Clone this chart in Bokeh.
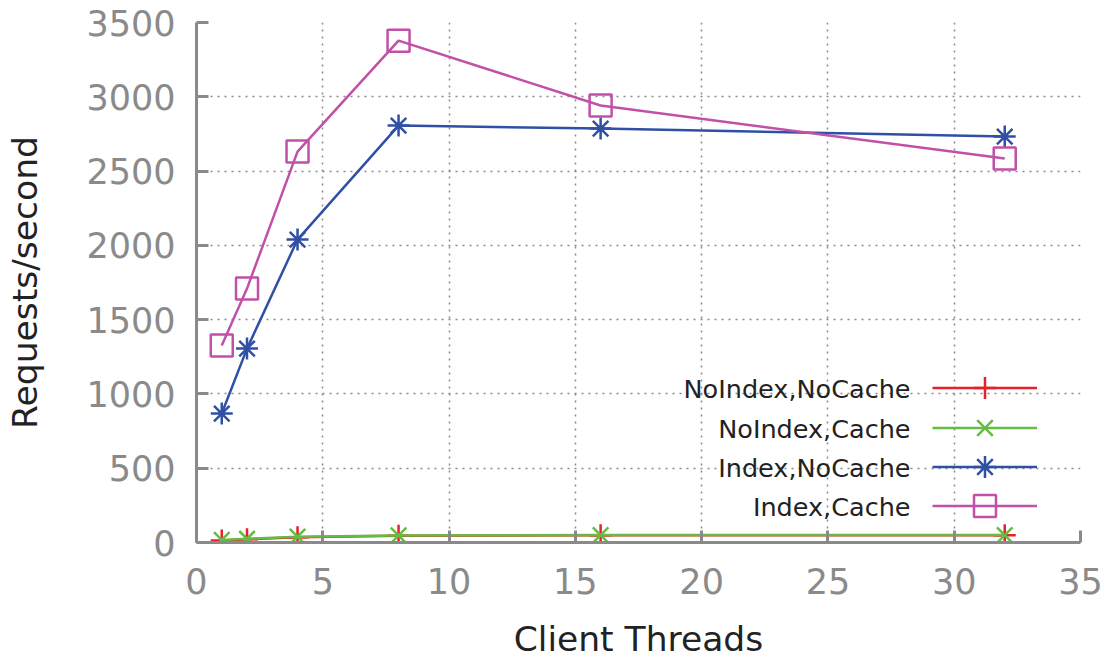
from bokeh.plotting import figure
from bokeh.models import Range1d, Legend, LegendItem, Label, FixedTicker
from bokeh.embed import file_html
from bokeh.resources import INLINE

threads = [1, 2, 4, 8, 16, 32]
noindex_nocache = [14, 22, 36, 45, 48, 48]
noindex_cache = [17, 25, 39, 47, 50, 50]
index_nocache = [868, 1305, 2039, 2806, 2786, 2732]
index_cache = [1326, 1709, 2631, 3378, 2941, 2584]

series_names = ["NoIndex,NoCache", "NoIndex,Cache", "Index,NoCache", "Index,Cache"]
series_values = [noindex_nocache, noindex_cache, index_nocache, index_cache]
colors = ["#e8202a", "#66bb44", "#3050a5", "#c050a8"]
markers = ["cross", "x", "asterisk", "square"]

x_ticks = [0, 5, 10, 15, 20, 25, 30, 35]
y_ticks = [0, 500, 1000, 1500, 2000, 2500, 3000, 3500]

FONT = "DejaVu Sans"
GREY = "#8a8a8a"

p = figure(width=1112, height=661, output_backend="svg", toolbar_location=None,
           x_range=Range1d(0, 35), y_range=Range1d(0, 3500),
           frame_width=884, frame_height=520,
           min_border_left=196, min_border_right=32, min_border_top=22, min_border_bottom=119)
p.outline_line_color = None
p.background_fill_color = "white"

for ax, ticks in ((p.xaxis, x_ticks), (p.yaxis, y_ticks)):
    ax.ticker = FixedTicker(ticks=ticks)
    ax.axis_line_color = GREY
    ax.axis_line_width = 3
    ax.major_tick_line_color = GREY
    ax.major_tick_line_width = 3
    ax.major_tick_in = 12
    ax.major_tick_out = 0
    ax.minor_tick_line_color = None
    ax.major_label_text_font = FONT
    ax.major_label_text_font_size = "35px"
    ax.major_label_text_color = GREY
    ax.axis_label_text_font = FONT
    ax.axis_label_text_font_size = "34.5px"
    ax.axis_label_text_color = "#222222"
    ax.axis_label_text_font_style = "normal"

p.xaxis.axis_label = "Client Threads"
p.yaxis.axis_label = "Requests/second"
p.xaxis.major_label_standoff = 25
p.yaxis.major_label_standoff = 21
p.xaxis.axis_label_standoff = 22
p.yaxis.axis_label_standoff = 38

for g in (p.xgrid, p.ygrid):
    g.grid_line_color = GREY
    g.grid_line_width = 1.5
    g.grid_line_dash = "2 5"

# legend row centres, measured in px up from the bottom of the plot frame
row_y = [154, 114, 75, 36]
for name, vals, c, m, ry in zip(series_names, series_values, colors, markers, row_y):
    lr = p.line(threads, vals, line_color=c, line_width=2.5)
    sr = p.scatter(threads, vals, marker=m, size=22, line_color=c, line_width=2.5,
                   fill_alpha=0)
    leg = Legend(items=[LegendItem(label=" ", renderers=[lr, sr])],
                 location=(736, ry - 27), padding=0, margin=0,
                 glyph_width=105, glyph_height=55, spacing=0, label_standoff=0,
                 label_text_font_size="4px", label_width=1, label_height=1,
                 border_line_alpha=0, background_fill_alpha=0)
    p.add_layout(leg, "center")
    p.add_layout(Label(x=714, y=ry, x_units="screen", y_units="screen",
                       text=name, text_align="right", text_baseline="middle",
                       text_font=FONT, text_font_size="25.5px", text_color="#222222"))

open("out.html", "w").write(file_html(p, INLINE))
